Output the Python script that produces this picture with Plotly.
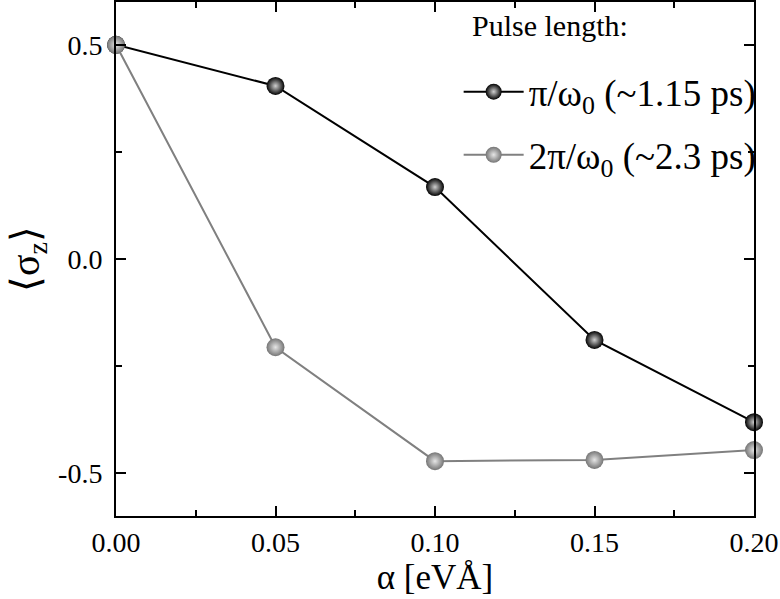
import plotly.graph_objects as go

alpha = [0.0, 0.05, 0.10, 0.15, 0.20]
sigma_short = [0.5, 0.404, 0.168, -0.189, -0.381]
sigma_long = [0.5, -0.206, -0.472, -0.469, -0.446]
name_short = "π/ω<sub>0</sub> (~1.15 ps)"
name_long = "2π/ω<sub>0</sub> (~2.3 ps)"
xticks = [0.0, 0.05, 0.10, 0.15, 0.20]
xticklabels = ["0.00", "0.05", "0.10", "0.15", "0.20"]
yticks = [-0.5, 0.0, 0.5]
yticklabels = ["-0.5", "0.0", "0.5"]

FONT = "Liberation Serif"

fig = go.Figure()
fig.add_trace(go.Scatter(
    x=alpha, y=sigma_short, mode="lines+markers", name=name_short, legendgroup="a",
    line=dict(color="black", width=2),
    marker=dict(size=18, color="black", gradient=dict(type="radial", color="#d0d0d0"),
                line=dict(width=0)),
    cliponaxis=False,
))
fig.add_trace(go.Scatter(
    x=alpha, y=sigma_long, mode="lines+markers", name=name_long, legendgroup="b",
    line=dict(color="#808080", width=2),
    marker=dict(size=18, color="#757575", gradient=dict(type="radial", color="#e6e6e6"),
                line=dict(width=0)),
    cliponaxis=False,
))

axis_common = dict(
    showline=True, linecolor="black", linewidth=2, mirror="allticks",
    ticks="inside", ticklen=10, tickwidth=1.5, tickcolor="black",
    showgrid=False, zeroline=False,
    tickfont=dict(family=FONT, size=28, color="black"),
)

fig.update_xaxes(
    range=[0, 0.2], tickvals=xticks, ticktext=xticklabels,
    minor=dict(ticks="inside", ticklen=6, tickwidth=1.5, tickcolor="black", dtick=0.025),
    title=dict(text="α [eVÅ]", font=dict(family=FONT, size=35, color="black"), standoff=2),
    **axis_common,
)
fig.update_yaxes(
    range=[-0.6, 0.6], tickvals=yticks, ticktext=yticklabels,
    minor=dict(ticks="inside", ticklen=6, tickwidth=1.5, tickcolor="black", dtick=0.25, tick0=0),
    title=dict(text="⟨σ<sub>z</sub>⟩", font=dict(family=FONT, size=40, color="black"), standoff=6),
    ticklabelstandoff=6,
    **axis_common,
)

fig.add_annotation(
    text="Pulse length:", xref="paper", yref="paper", x=0.68, y=0.99,
    xanchor="center", yanchor="top", showarrow=False,
    font=dict(family=FONT, size=30, color="black"),
)

fig.update_layout(
    width=780, height=599,
    margin=dict(l=116, r=26, t=2, b=83, autoexpand=False),
    paper_bgcolor="white", plot_bgcolor="white",
    font=dict(family=FONT, color="black"),
    showlegend=True,
    legend=dict(
        x=1.012, y=0.885, xanchor="right", yanchor="top",
        bgcolor="rgba(0,0,0,0)", font=dict(family=FONT, size=37, color="black"),
        itemwidth=60, tracegroupgap=12,
    ),
)

fig.write_html("out.html", config={"displayModeBar": False},
               post_script="document.body.style.margin='0';")
